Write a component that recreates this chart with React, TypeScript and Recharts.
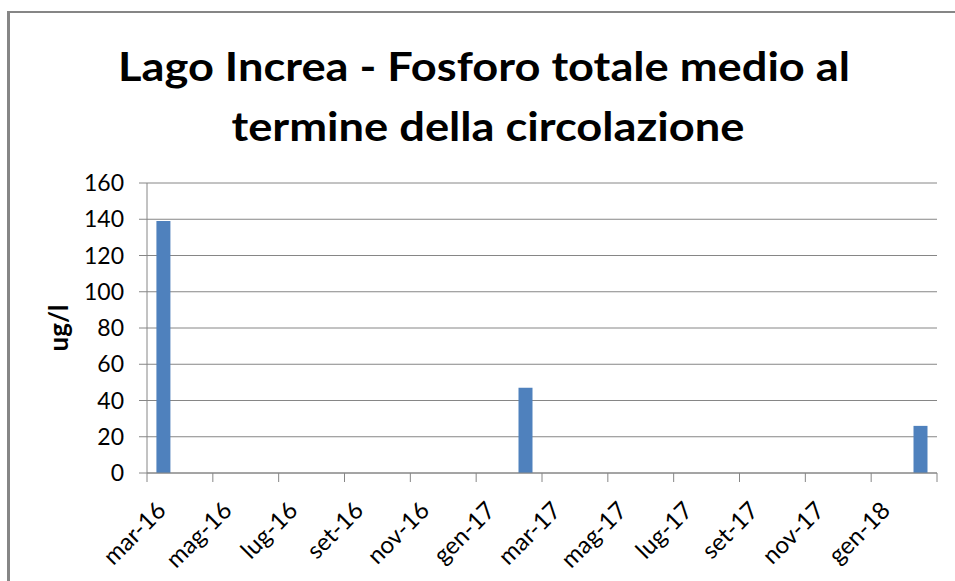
import React from 'react';
import { BarChart, Bar, XAxis, YAxis, CartesianGrid } from 'recharts';

const months = [
  'mar-16', 'apr-16', 'mag-16', 'giu-16', 'lug-16', 'ago-16',
  'set-16', 'ott-16', 'nov-16', 'dic-16', 'gen-17', 'feb-17',
  'mar-17', 'apr-17', 'mag-17', 'giu-17', 'lug-17', 'ago-17',
  'set-17', 'ott-17', 'nov-17', 'dic-17', 'gen-18', 'feb-18',
];
const sampleMonths = ['mar-16', 'feb-17', 'feb-18'];
const phosphorus = [139, 47, 26];
const yTicks = [0, 20, 40, 60, 80, 100, 120, 140, 160];
const titleLines = ['Lago Increa - Fosforo totale medio al', 'termine della circolazione'];
const yLabel = 'ug/l';

const boundaryTicks = months.map((_, i) => i).filter((i) => i % 2 === 0).concat([months.length]);
const labelTicks = months.map((_, i) => i).filter((i) => i % 2 === 0).map((i) => i + 0.5);

const data = sampleMonths.map((m, i) => ({
  x: months.indexOf(m) + 0.5,
  month: m,
  value: phosphorus[i],
}));

const GRAY = '#868686';
const FONT = 'Lato, "Open Sans", sans-serif';

const LabelTick = (props: any) => {
  const { x, y, payload } = props;
  const ax = x + 4;
  return (
    <text
      x={ax}
      y={y}
      transform={`rotate(-45, ${ax}, ${y})`}
      textAnchor="end"
      fontSize={24}
      fontFamily={FONT}
      fill="#000"
    >
      {months[Math.floor(payload.value)]}
    </text>
  );
};

const YLabel = (props: any) => {
  const vb = props.viewBox || {};
  const cx = vb.x + 21;
  const cy = vb.y + vb.height / 2;
  return (
    <text
      x={cx}
      y={cy}
      transform={`rotate(-90, ${cx}, ${cy})`}
      textAnchor="middle"
      fontSize={26}
      fontWeight="bold"
      fontFamily={FONT}
      fill="#000"
    >
      {yLabel}
    </text>
  );
};

export default function App() {
  return (
    <div style={{ position: 'fixed', left: 0, top: 0, width: 955, height: 581, background: '#fff', overflow: 'hidden' }}>
      <div
        style={{
          position: 'absolute',
          left: 7,
          top: 11,
          width: 960,
          height: 590,
          borderLeft: `3px solid ${GRAY}`,
          borderTop: `2px solid ${GRAY}`,
        }}
      />
      <svg style={{ position: 'absolute', left: 0, top: 0 }} width={955} height={170}>
        <text x={484} y={81} textAnchor="middle" fontSize={41} fontWeight="bold" fontFamily={FONT} fill="#000"
          textLength={732} lengthAdjust="spacingAndGlyphs">
          {titleLines[0]}
        </text>
        <text x={488} y={141} textAnchor="middle" fontSize={41} fontWeight="bold" fontFamily={FONT} fill="#000"
          textLength={513} lengthAdjust="spacingAndGlyphs">
          {titleLines[1]}
        </text>
      </svg>
      <div style={{ position: 'absolute', left: 0, top: 0 }}>
        <BarChart
          width={955}
          height={581}
          data={data}
          margin={{ top: 183, right: 18, left: 47, bottom: 27 }}
        >
          <CartesianGrid horizontal vertical={false} stroke={GRAY} xAxisId="b" />
          <XAxis
            xAxisId="b"
            dataKey="x"
            type="number"
            domain={[0, months.length]}
            ticks={boundaryTicks}
            interval={0}
            tickSize={9}
            tickFormatter={() => ''}
            axisLine={{ stroke: GRAY }}
            tickLine={{ stroke: GRAY }}
            height={1}
          />
          <XAxis
            xAxisId="l"
            dataKey="x"
            type="number"
            domain={[0, months.length]}
            ticks={labelTicks}
            interval={0}
            tickSize={0}
            tickMargin={38}
            tickLine={false}
            axisLine={false}
            tick={<LabelTick />}
            height={80}
          />
          <YAxis
            type="number"
            domain={[0, 160]}
            ticks={yTicks}
            interval={0}
            width={100}
            tickSize={8}
            tickMargin={15}
            axisLine={{ stroke: GRAY }}
            tickLine={{ stroke: GRAY }}
            tick={{ fill: '#000', fontSize: 23, fontFamily: FONT }}
            label={{ content: <YLabel /> }}
          />
          <Bar xAxisId="b" dataKey="value" fill="#4F81BD" barSize={14} isAnimationActive={false} />
        </BarChart>
      </div>
    </div>
  );
}
